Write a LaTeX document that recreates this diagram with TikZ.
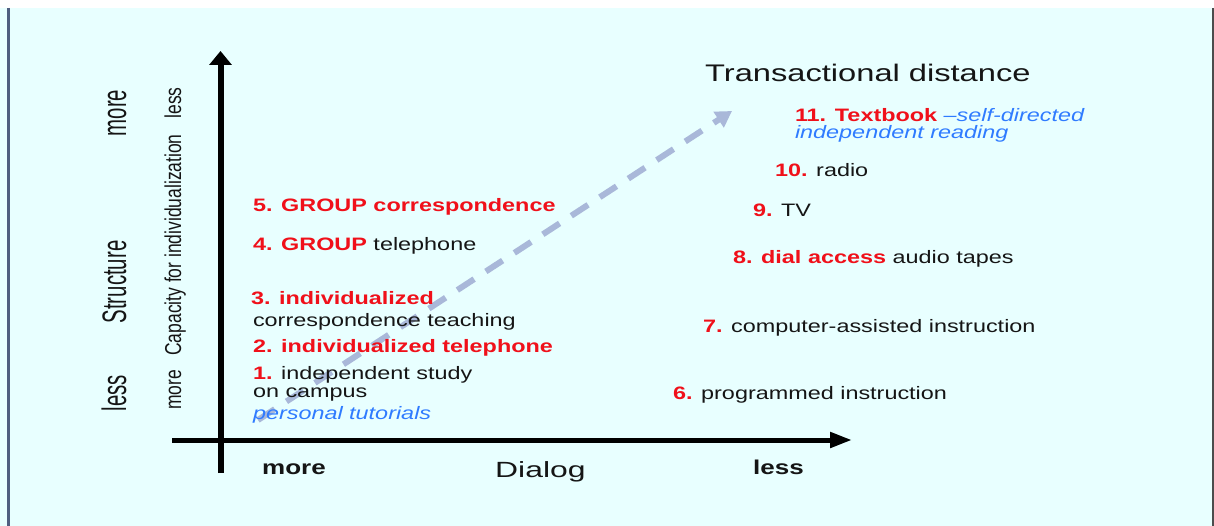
\documentclass[tikz,border=0pt]{standalone}
\usepackage{fontspec}
\setmainfont{Liberation Sans}[FakeStretch=1.3]
\newfontfamily\titlefont{Liberation Sans}[FakeStretch=1.36]
\newfontfamily\dlgfont{Liberation Sans}[FakeStretch=1.45]
\newfontfamily\rotbig{Liberation Sans}[FakeStretch=0.6]
\newfontfamily\rotsmall{Liberation Sans}[FakeStretch=0.76]
\usetikzlibrary{arrows.meta}
\definecolor{bg}{HTML}{E8FFFF}
\definecolor{itemred}{HTML}{F0101A}
\definecolor{itemblue}{HTML}{2F7BFF}
\definecolor{dashblue}{HTML}{A9B8D9}
\definecolor{txt}{HTML}{151515}
\definecolor{framecol}{HTML}{4F5F80}
\newcommand\redb[1]{\textbf{\textcolor{itemred}{#1}}}
\newcommand\bluei[1]{\textit{\textcolor{itemblue}{#1}}}
\begin{document}
\begin{tikzpicture}[x=1pt,y=-1pt,
  item/.style={anchor=base west, inner sep=0pt, outer sep=0pt, text=txt, font=\fontsize{18}{20}\selectfont},
  title/.style={anchor=base west, inner sep=0pt, text=txt, font=\titlefont\fontsize{24}{26}\selectfont},
  axlbl/.style={anchor=base west, inner sep=0pt, text=txt, font=\fontsize{20}{22}\selectfont\bfseries},
  dlg/.style={anchor=base west, inner sep=0pt, text=txt, font=\dlgfont\fontsize{22}{24}\selectfont},
  rbig/.style={rotate=90, anchor=base, inner sep=0pt, text=txt, font=\rotbig\fontsize{34}{36}\selectfont},
  rsmall/.style={rotate=90, anchor=base, inner sep=0pt, text=txt, font=\rotsmall\fontsize{23}{25}\selectfont},
  axisv/.style={line width=6pt, draw=black, -{Triangle[length=14pt,width=22pt]}},
  axish/.style={line width=5pt, draw=black, -{Triangle[length=22pt,width=15pt]}},
  trend/.style={line width=6pt, draw=dashblue, dash pattern=on 20pt off 14pt, -{Triangle[length=16pt,width=18pt]}}
]
\useasboundingbox (0,0) rectangle (1214,526);
% background and frame
\fill[white] (0,0) rectangle (1214,8);
\fill[bg] (0,8) rectangle (1214,526);
\draw[framecol, line width=3pt] (8.5,8) -- (8.5,526);
\draw[black!70, line width=1.5pt] (1213,8) -- (1213,526);

% axes
\coordinate (vbot) at (220.5,473);
\coordinate (vtop) at (220.5,51);
\coordinate (hleft) at (172,440);
\coordinate (hright) at (852,440);
\draw[axisv] (vbot) -- (vtop);
\draw[axish] (hleft) -- (hright);

% trend arrow
\coordinate (ds) at (258,420);
\coordinate (de) at (732,111);
\draw[trend] (ds) -- (de);

% rotated labels
\node[rbig] (smore) at (126,113) {more};
\node[rbig] (sstruct) at (126,282) {Structure};
\node[rbig] (sless) at (126,393) {less};
\node[rsmall] (cless) at (181,103) {less};
\node[rsmall] (ccap) at (181,245) {Capacity for individualization};
\node[rsmall] (cmore) at (181,390) {more};

% left items
\node[item] (i5) at (253,212) {\redb{5. GROUP correspondence}};
\node[item] (i4) at (253,251) {\redb{4. GROUP} telephone};
\node[item] (i3a) at (251,305) {\redb{3. individualized}};
\node[item] (i3b) at (253,326) {correspondence teaching};
\node[item] (i2) at (253,352) {\redb{2. individualized telephone}};
\node[item] (i1a) at (253,379) {\redb{1.} independent study};
\node[item] (i1b) at (253,397) {on campus};
\node[item] (i1c) at (253,419) {\bluei{personal tutorials}};

% right items
\node[title] (ttl) at (705,82) {Transactional distance};
\node[item] (i11a) at (795,122) {\redb{11. Textbook} \bluei{--self-directed}};
\node[item] (i11b) at (795,139) {\bluei{independent reading}};
\node[item] (i10) at (775,177) {\redb{10.} radio};
\node[item] (i9) at (753,217) {\redb{9.} TV};
\node[item] (i8) at (733,264) {\redb{8. dial access} audio tapes};
\node[item] (i7) at (703,332) {\redb{7.} computer-assisted instruction};
\node[item] (i6) at (673,399) {\redb{6.} programmed instruction};

% bottom labels
\node[axlbl] (dmore) at (262,474) {more};
\node[dlg] (dlog) at (495,477) {Dialog};
\node[axlbl] (dless) at (753,474) {less};
\end{tikzpicture}
\end{document}
